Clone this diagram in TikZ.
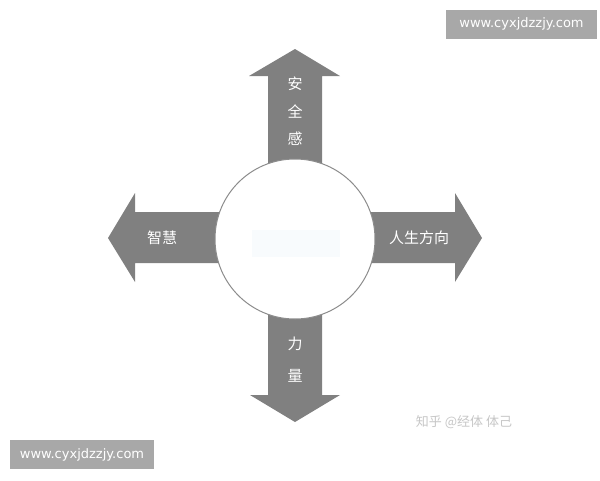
\documentclass[tikz,border=0pt]{standalone}
\usepackage{fontspec}
\setmainfont{DejaVu Sans}
\newfontfamily\cjk{Noto Sans CJK SC}
\usepackage{tikz}
\usetikzlibrary{positioning}

\definecolor{arrowgray}{HTML}{808080}
\definecolor{linegray}{HTML}{8C8C8C}
\definecolor{markgray}{HTML}{A8A8A8}
\definecolor{faintblue}{HTML}{F8FBFD}

\tikzset{
  label/.style={text=white, font=\cjk\fontsize{15}{15}\selectfont, inner sep=0pt},
  webmark/.style={fill=markgray, text=white, font=\fontsize{13}{13}\selectfont,
    minimum height=29pt, inner sep=0pt},
}

\begin{document}
\begin{tikzpicture}[x=1pt, y=-1pt]
  \useasboundingbox [fill=white] (0,0) rectangle (600,480);
  % arrows
  \fill [arrowgray] (268,239) -- (268,76) -- (249,76) -- (295,49) -- (340,76) -- (322,76) -- (322,239) -- cycle;
  \fill [arrowgray] (295,212) -- (135,212) -- (135,193) -- (108,238) -- (135,282) -- (135,263) -- (295,263) -- cycle;
  \fill [arrowgray] (295,212) -- (455,212) -- (455,193) -- (482,238) -- (455,282) -- (455,263) -- (295,263) -- cycle;
  \fill [arrowgray] (268,239) -- (268,395) -- (250,395) -- (295,422) -- (340,395) -- (322,395) -- (322,239) -- cycle;
  % centre
  \draw [linegray, fill=white, line width=1pt] (295,239) circle [radius=80pt];
  \fill [faintblue] (252,230) rectangle (340,257);
  % labels
  \node [label] (an) at (295,84) {安};
  \node [label] (quan) at (295,112) {全};
  \node [label] (gan) at (295,139) {感};
  \node [label] (zhihui) at (162,238) {智慧};
  \node [label] (fangxiang) at (419,238) {人生方向};
  \node [label] (li) at (295,344) {力};
  \node [label] (liang) at (295,376) {量};
  % marks
  \node [text=black!22, font=\cjk\fontsize{13}{13}\selectfont, inner sep=0pt] (zhihu) at (464,422) {知乎 @经体 体己};
  \node [webmark, minimum width=151pt] (webtop) at (521.5,24) {www.cyxjdzzjy.com};
  \node [webmark, minimum width=144pt] (webbottom) at (82,454.5) {www.cyxjdzzjy.com};
\end{tikzpicture}
\end{document}
